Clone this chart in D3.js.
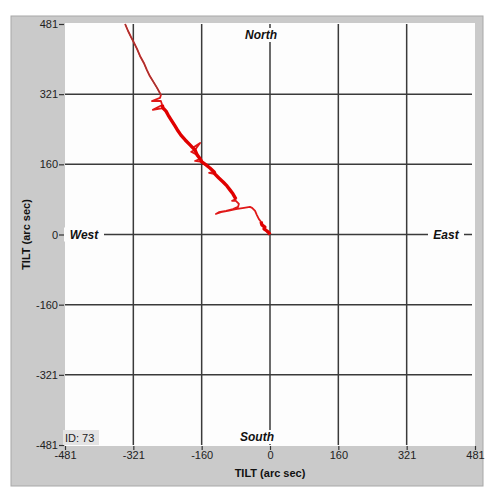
<!DOCTYPE html>
<html>
<head>
<meta charset="utf-8">
<script src="https://cdn.jsdelivr.net/npm/d3@7"></script>
<style>
  body { margin: 0; background: #fff; }
  svg { display: block; font-family: "Liberation Sans", Arial, sans-serif; }
</style>
</head>
<body>
<div id="root"></div>
<script>
const width = 490;
const height = 487;

// tick positions (arc sec) and the labels printed on them
const tickValues = [-481, -320.67, -160.33, 0, 160.33, 320.67, 481];
const tickLabels = ["-481", "-321", "-160", "0", "160", "321", "481"];

// tilt track, from the origin outward (arc sec)
const tiltX = [0, -2, -7, -14, -12, -19, -21, -26, -31, -35, -42, -47, -61, -80, -99, -115, -127,
  -120, -103, -87, -75, -73, -80, -89, -80, -87, -94, -101, -110, -120, -129, -143, -131, -141,
  -150, -160, -176, -164, -171, -185, -176, -164, -181, -190, -199, -209, -216, -223, -232, -239,
  -244, -251, -275, -253, -256, -277, -258, -256, -265, -275, -282, -289, -296, -305, -312, -319,
  -326, -333, -340];
const tiltY = [0, 3, 8, 13, 17, 22, 29, 35, 45, 54, 61, 63, 61, 58, 54, 51, 47,
  51, 54, 58, 63, 70, 77, 77, 81, 93, 102, 111, 120, 129, 138, 141, 143, 152,
  159, 166, 168, 173, 182, 189, 193, 209, 198, 207, 216, 227, 237, 248, 262, 273,
  282, 289, 285, 296, 305, 305, 312, 319, 335, 351, 362, 376, 392, 408, 424, 438,
  451, 465, 481];

const svg = d3.select("#root").append("svg")
  .attr("width", width)
  .attr("height", height);

// gray frame
svg.append("rect")
  .attr("x", 11).attr("y", 16)
  .attr("width", 472).attr("height", 470)
  .attr("fill", "#cacaca")
  .attr("stroke", "#a8a8a8");

const x = d3.scaleLinear().domain([-481, 481]).range([65, 475]);
const y = d3.scaleLinear().domain([-481, 481]).range([445, 24]);

// plot area
svg.append("rect")
  .attr("x", x(-481)).attr("y", y(481) - 1)
  .attr("width", x(481) - x(-481)).attr("height", y(-481) - y(481) + 2)
  .attr("fill", "#fdfdfd");

// grid
const gridVals = tickValues.filter(d => Math.abs(d) !== 481);
const grid = svg.append("g").attr("stroke", "#3a3a3a").attr("stroke-width", 1.5);
grid.selectAll(".gx").data(gridVals).enter().append("line")
  .attr("x1", d => x(d)).attr("x2", d => x(d))
  .attr("y1", y(481)).attr("y2", y(-481));
grid.selectAll(".gy").data(gridVals).enter().append("line")
  .attr("y1", d => y(d)).attr("y2", d => y(d))
  .attr("x1", x(-481)).attr("x2", x(481) - 3);

// axes
const xAxis = svg.append("g")
  .attr("transform", `translate(0,${y(-481) + 1})`)
  .call(d3.axisBottom(x).tickValues(tickValues).tickFormat((d, i) => tickLabels[i]).tickSize(4).tickPadding(1));
const yAxis = svg.append("g")
  .attr("transform", `translate(${x(-481) - 1},0)`)
  .call(d3.axisLeft(y).tickValues(tickValues).tickFormat((d, i) => tickLabels[i]).tickSize(5).tickPadding(1));
[xAxis, yAxis].forEach(a => {
  a.select(".domain").remove();
  a.selectAll("line").attr("stroke", "#333").attr("stroke-width", 1.2);
  a.selectAll("text").attr("fill", "#222").style("font-size", "11px")
    .style("font-family", "'Liberation Sans', Arial, sans-serif");
});

// track
const line = d3.line().x(d => x(tiltX[d])).y(d => y(tiltY[d]));
const idx = d3.range(tiltX.length);
svg.append("path")
  .attr("d", line(idx))
  .attr("fill", "none")
  .attr("stroke", "#e01818")
  .attr("stroke-width", 1.8)
  .attr("stroke-linejoin", "round");
svg.append("path")
  .attr("d", line(idx.slice(57)))
  .attr("fill", "none")
  .attr("stroke", "#9c3a36")
  .attr("stroke-width", 1.1);
[idx.slice(0, 7), idx.slice(24, 54)].forEach(part => {
  svg.append("path")
    .attr("d", line(part.filter(i => ![31, 36, 39, 41, 52].includes(i))))
    .attr("fill", "none")
    .attr("stroke", "#e00000")
    .attr("stroke-width", 3.4)
    .attr("stroke-linejoin", "round");
});

// compass labels with white backing
function dirLabel(txt, cx, cy, w) {
  svg.append("rect")
    .attr("x", cx - w / 2).attr("y", cy - 7)
    .attr("width", w).attr("height", 14)
    .attr("fill", "#fdfdfd");
  svg.append("text")
    .attr("x", cx).attr("y", cy + 4)
    .attr("text-anchor", "middle")
    .style("font-size", "12px")
    .style("font-weight", "bold")
    .style("font-style", "italic")
    .attr("fill", "#111")
    .text(txt);
}
dirLabel("North", 261, 35, 37);
dirLabel("South", 257, 437, 33);
dirLabel("West", 84, y(0), 40);
dirLabel("East", 446, y(0), 36);
svg.append("rect").attr("x", 473).attr("y", y(0) - 2).attr("width", 2).attr("height", 4).attr("fill", "#fdfdfd");

// ID box
svg.append("rect")
  .attr("x", 63).attr("y", 430)
  .attr("width", 36).attr("height", 15)
  .attr("fill", "#e4e4e4");
svg.append("text")
  .attr("x", 65).attr("y", 442)
  .style("font-size", "11px")
  .attr("fill", "#222")
  .text("ID: 73");

// axis titles
svg.append("text")
  .attr("x", 270).attr("y", 477)
  .attr("text-anchor", "middle")
  .style("font-size", "11px")
  .style("font-weight", "bold")
  .attr("fill", "#111")
  .text("TILT (arc sec)");
svg.append("text")
  .attr("transform", `translate(30,${y(0)}) rotate(-90)`)
  .attr("text-anchor", "middle")
  .style("font-size", "11px")
  .style("font-weight", "bold")
  .attr("fill", "#111")
  .text("TILT (arc sec)");
</script>
</body>
</html>
